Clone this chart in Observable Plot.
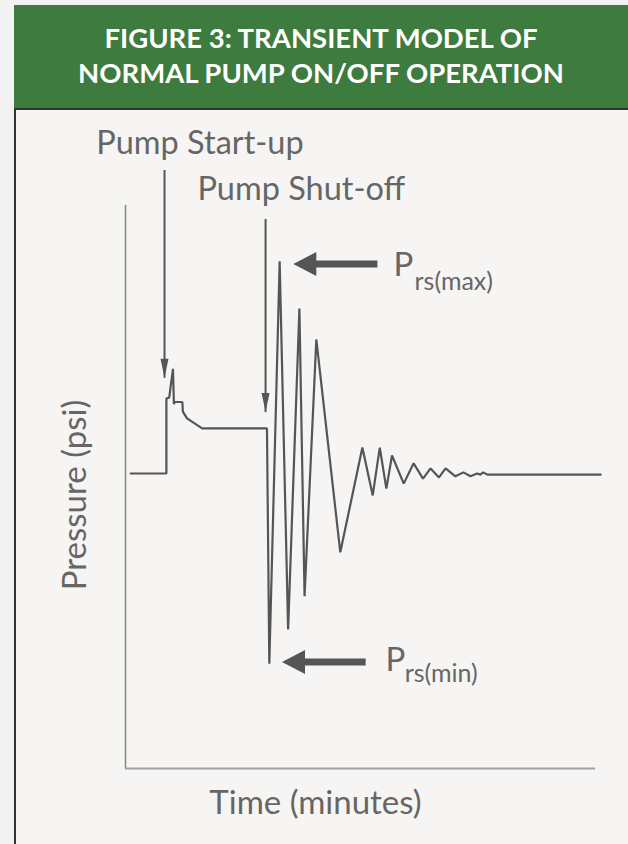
<!DOCTYPE html>
<html><head><meta charset="utf-8">
<script src="https://cdn.jsdelivr.net/npm/d3@7"></script>
<script src="https://cdn.jsdelivr.net/npm/@observablehq/plot@0.6"></script>
<style>
html,body{margin:0;padding:0;background:#f2f2f2;width:628px;height:844px;overflow:hidden;}
#header{position:absolute;left:14px;top:5px;width:614px;height:103px;background:#3d7b3e;color:#fff;
  font-family:Lato,"Open Sans",sans-serif;font-weight:700;font-size:27.5px;text-align:center;line-height:35px;
  box-sizing:border-box;padding-top:15px;}
#panel{position:absolute;left:14px;top:108px;width:614px;height:736px;background:#f6f5f3;
  border-left:2px solid #333;border-top:2px solid #333;}
#panel svg{display:block;}
</style></head>
<body>
<div id="header">FIGURE 3: TRANSIENT MODEL OF<br>NORMAL PUMP ON/OFF OPERATION</div>
<div id="panel"></div>
<script>
// Trace of pressure vs time (arbitrary units)
const time = [1.1, 8.7, 8.7, 9.3, 10.1, 10.3, 10.4, 12.1, 12.2, 13.1, 16.3, 30.1, 30.6, 32.8, 34.6, 37.0, 38.1, 40.6, 45.7, 50.4, 52.6, 54.1, 55.5, 56.7, 59.2, 61.3, 63.3, 64.9, 66.7, 68.1, 70.2, 71.9, 73.4, 74.8, 75.5, 76.1, 77.0, 101.1];
const pressure = [52.4, 52.4, 65.7, 65.9, 71.0, 64.7, 65.1, 65.1, 63.4, 62.2, 60.4, 60.4, 18.6, 90.1, 24.7, 81.7, 30.6, 76.2, 38.4, 57.0, 48.5, 57.0, 49.7, 55.6, 50.6, 54.2, 51.5, 53.3, 51.7, 53.3, 51.9, 52.6, 51.9, 52.4, 52.2, 52.6, 52.2, 52.2];

// Event labels with thin down-pointing arrows
const eventLabels = ["Pump Start-up", "Pump Shut-off"];
const eventLabelTime = [-6.2, 15.3];
const eventLabelPressure = [111.0, 102.9];
const eventArrowTime = [8.3, 29.8];
const eventArrowTop = [106.3, 97.6];
const eventArrowTip = [69.4, 63.3];

// Surge pressure labels with thick left-pointing arrows
const surgeSub = ["rs(max)", "rs(min)"];
const surgeTipTime = [35.7, 33.3];
const surgeShaftTime = [39.7, 37.3];
const surgeTailTime = [53.6, 51.1];
const surgePressure = [89.6, 18.9];
const surgePTime = [57.0, 55.3];
const surgePPressure = [89.3, 19.2];
const surgeSubTime = [61.5, 59.4];
const surgeSubPressure = [86.4, 16.7];

const axisLabels = {x: "Time (minutes)", y: "Pressure (psi)"};

const trace = time.map((t, i) => ({t, p: pressure[i]}));
const events = eventLabels.map((l, i) => ({l, lt: eventLabelTime[i], lp: eventLabelPressure[i], at: eventArrowTime[i], top: eventArrowTop[i], tip: eventArrowTip[i]}));
const surges = surgeSub.map((s, i) => ({s, tip: surgeTipTime[i], shaft: surgeShaftTime[i], tail: surgeTailTime[i], p: surgePressure[i], pt: surgePTime[i], pp: surgePPressure[i], st: surgeSubTime[i], sp: surgeSubPressure[i]}));

const thinHead = {draw(ctx) { ctx.moveTo(0, 0); ctx.lineTo(-4, -19); ctx.lineTo(4, -19); ctx.closePath(); }};
const thickHead = {draw(ctx) { ctx.moveTo(0, 0); ctx.lineTo(23, -12); ctx.lineTo(23, 12); ctx.closePath(); }};

const font = "Lato, 'Open Sans', sans-serif";
const chart = Plot.plot({
  width: 614, height: 734,
  marginLeft: 109, marginRight: 35, marginTop: 95, marginBottom: 76,
  x: {domain: [0, 100], axis: null},
  y: {domain: [0, 100], axis: null},
  style: {background: "transparent", fontFamily: font, overflow: "visible"},
  marks: [
    Plot.ruleX([0], {y1: 0, y2: 100, stroke: "#8a8a8a", strokeWidth: 1.6}),
    Plot.ruleY([0], {x1: 0, x2: 100, stroke: "#a0a0a0", strokeWidth: 1.8}),
    Plot.line(trace, {x: "t", y: "p", stroke: "#555", strokeWidth: 2.2, strokeLinejoin: "miter"}),
    Plot.link(events, {x1: "at", x2: "at", y1: "top", y2: "tip", stroke: "#555", strokeWidth: 2}),
    Plot.dot(events, {x: "at", y: "tip", symbol: thinHead, fill: "#555", stroke: "none", r: 5}),
    Plot.text(events, {x: "lt", y: "lp", text: "l", textAnchor: "start", lineAnchor: "middle", fontSize: 32.5, fill: "#666"}),
    Plot.link(surges, {x1: "shaft", x2: "tail", y1: "p", y2: "p", stroke: "#555", strokeWidth: 7}),
    Plot.dot(surges, {x: "tip", y: "p", symbol: thickHead, fill: "#555", stroke: "none", r: 5}),
    Plot.text(surges, {x: "pt", y: "pp", text: () => "P", textAnchor: "start", lineAnchor: "middle", fontSize: 33, fill: "#666"}),
    Plot.text(surges, {x: "st", y: "sp", text: "s", textAnchor: "start", lineAnchor: "middle", fontSize: 25, fill: "#666"}),
    Plot.text([axisLabels.y], {frameAnchor: "left", textAnchor: "middle", lineAnchor: "middle", rotate: -90, dx: -50, dy: 8, fontSize: 33, fill: "#666"}),
    Plot.text([axisLabels.x], {frameAnchor: "bottom", textAnchor: "middle", lineAnchor: "middle", dx: -45, dy: 35, fontSize: 33, fill: "#666"})
  ]
});
document.getElementById("panel").appendChild(chart);
</script>
</body></html>
